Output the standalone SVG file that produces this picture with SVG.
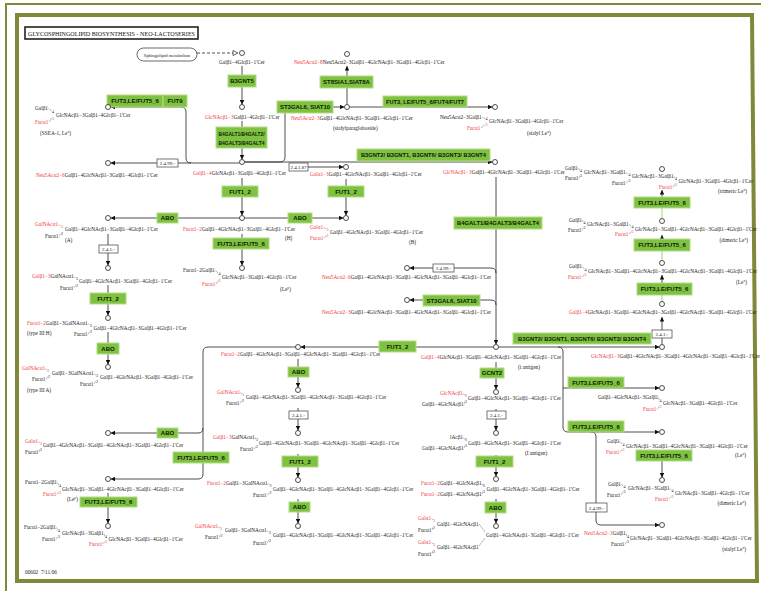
<svg xmlns="http://www.w3.org/2000/svg" width="761" height="591" viewBox="0 0 761 591">
<defs>
<style>
.t{font-family:"Liberation Serif",serif;font-size:5.3px;fill:#222}
.r{fill:#f03c3c}
.s{font-size:4px}
.e{fill:#7fc241;stroke:#b3dc88;stroke-width:1}
.et{font-family:"Liberation Sans",Arial,sans-serif;font-weight:bold;font-size:6px;fill:#0d1a05;text-anchor:middle}
.k{fill:#fff;stroke:#555;stroke-width:.8}
.kt{font-family:"Liberation Serif",serif;font-size:5px;fill:#222;text-anchor:middle}
.c{fill:#fff;stroke:#222;stroke-width:.8}
.l{fill:none;stroke:#3a3a3a;stroke-width:.9}
.g{fill:none;stroke:#8fd05a;stroke-width:.9}
.b{fill:none;stroke:#666;stroke-width:.45}
.en{text-anchor:end}
</style>
<marker id="a" viewBox="0 0 10 10" refX="10" refY="5" markerWidth="4.5" markerHeight="4.5" markerUnits="userSpaceOnUse" orient="auto"><path d="M0,0 L10,5 L0,10 z" fill="#111"/></marker>
</defs>
<rect width="761" height="591" fill="#fff"/>
<path d="M6,591 V4 H761" fill="none" stroke="#81883a" stroke-width="2"/>
<path d="M17,15 H752 L757,581 H17 Z" fill="none" stroke="#81883a" stroke-width="4"/>

<g id="title">
<rect x="25" y="27" width="173" height="12" fill="#fff" stroke="#222" stroke-width="1.6"/>
<text x="28" y="35.5" font-family="Liberation Serif,serif" font-size="6.2" fill="#111" textLength="167" lengthAdjust="spacingAndGlyphs">GLYCOSPHINGOLIPID BIOSYNTHESIS - NEO-LACTOSERIES</text>
</g>
<text class="t" x="25" y="574">00602</text><text class="t" x="41" y="574">7/11/06</text>

<g id="connectors">
<path class="l" d="M197,53 H233" stroke-dasharray="3,2"/>
<polygon points="233,50.5 238,53 233,55.5" fill="#fff" stroke="#222" stroke-width=".7"/>
<path class="l" d="M242,66 V104.5" marker-end="url(#a)"/>
<path class="l" d="M242,121 V159.5" marker-end="url(#a)"/>
<path class="l" d="M239.5,163 H110.5" marker-end="url(#a)"/>
<path class="l" d="M191,163 Q186,163 186,158 V112 Q186,107 181,107 H110.5" marker-end="url(#a)"/>
<path class="l" d="M244.5,162 H280 Q285,162 285,157 V107 H344.5" marker-end="url(#a)"/>
<path class="l" d="M244.5,162 H492.5" marker-end="url(#a)"/>
<path class="l" d="M307,167 H343.5" marker-end="url(#a)"/>
<path class="l" d="M349.5,107 H492.5" marker-end="url(#a)"/>
<path class="l" d="M347,104.5 V66" marker-end="url(#a)"/>
<path class="l" d="M242,178 V215.5" marker-end="url(#a)"/>
<path class="l" d="M346,179 V215.5" marker-end="url(#a)"/>
<path class="l" d="M239.5,218 H110.5" marker-end="url(#a)"/>
<path class="l" d="M244.5,218 H343.5" marker-end="url(#a)"/>
<path class="l" d="M242,234 V265.5" marker-end="url(#a)"/>
<path class="l" d="M108,234 V265.5" marker-end="url(#a)"/>
<path class="l" d="M108,285 V315.5" marker-end="url(#a)"/>
<path class="l" d="M108,332 V364.5" marker-end="url(#a)"/>
<path class="l" d="M496,177 V344.5" marker-end="url(#a)"/>
<path class="l" d="M496,273 Q496,268 491,268 H409.5" marker-end="url(#a)"/>
<path class="l" d="M496,305 Q496,300 491,300 H409.5" marker-end="url(#a)"/>
<path class="l" d="M493.5,347 H300.5" marker-end="url(#a)"/>
<path class="l" d="M295.5,347 H208 Q203,347 203,352 V428 Q203,433 198,433 H110.5" marker-end="url(#a)"/>
<path class="l" d="M203,428 V474 Q203,479 198,479 H110.5" marker-end="url(#a)"/>
<path class="l" d="M108,493 V523.5" marker-end="url(#a)"/>
<path class="l" d="M298,359 V387.5" marker-end="url(#a)"/>
<path class="l" d="M298,408 V430.5" marker-end="url(#a)"/>
<path class="l" d="M298,454 V477.5" marker-end="url(#a)"/>
<path class="l" d="M298,499 V523.5" marker-end="url(#a)"/>
<path class="l" d="M496,362 V389.5" marker-end="url(#a)"/>
<path class="l" d="M496,409 V430.5" marker-end="url(#a)"/>
<path class="l" d="M496,455 V476.5" marker-end="url(#a)"/>
<path class="l" d="M496,499 V523.5" marker-end="url(#a)"/>
<path class="l" d="M498.5,347 H659.5" marker-end="url(#a)"/>
<path class="l" d="M558,347 Q563,347 563,352 V427 Q563,432 568,432 H659.5" marker-end="url(#a)"/>
<path class="l" d="M563,388 H659.5" marker-end="url(#a)"/>
<path class="l" d="M591,432 Q596,432 596,437 V520 Q596,525 601,525 H659.5" marker-end="url(#a)"/>
<path class="l" d="M662,461 V477.5" marker-end="url(#a)"/>
<path class="l" d="M662,344.5 V338"/>
<path class="l" d="M662,330 V317" marker-end="url(#a)"/>
<path class="l" d="M662,283 V275" marker-end="url(#a)"/>
<path class="l" d="M662,239 V235" marker-end="url(#a)"/>
<path class="l" d="M662,197 V190" marker-end="url(#a)"/>
<path class="g" d="M662,301.5 V295 M662,260.5 V251 M662,218.5 V208"/>
<path class="b" d="M479,524 L485,532 M479,546 L485,538"/>
</g>

<g id="kboxes">
<rect class="k" x="157" y="159" width="21" height="8"/><text class="kt" x="167.5" y="165">2.4.99.-</text>
<rect class="k" x="289" y="163" width="19" height="8"/><text class="kt" x="298.5" y="169">2.4.1.87</text>
<rect class="k" x="99" y="245" width="19" height="8"/><text class="kt" x="108.5" y="251">2.4.1.-</text>
<rect class="k" x="433" y="264" width="21" height="8"/><text class="kt" x="443.5" y="270">2.4.99.-</text>
<rect class="k" x="289" y="411" width="19" height="8"/><text class="kt" x="298.5" y="417">2.4.1.-</text>
<rect class="k" x="487" y="411" width="19" height="8"/><text class="kt" x="496.5" y="417">2.4.1.-</text>
<rect class="k" x="652" y="330" width="20" height="8"/><text class="kt" x="662" y="336">2.4.1.-</text>
<rect class="k" x="586" y="503" width="21" height="9"/><text class="kt" x="596.5" y="509.5">2.4.99.-</text>
</g>

<g id="sph"><rect x="137" y="48" width="60" height="13" rx="6.5" fill="#fff" stroke="#444" stroke-width=".8"/><text x="167" y="56.5" font-family="Liberation Serif,serif" font-size="4.6" fill="#222" text-anchor="middle">Sphingolipid metabolism</text></g>

<g id="enzymes">
<g id="e1"><rect class="e" x="228" y="75" width="28" height="12"/><text class="et" x="242" y="83">B3GNT5</text></g>
<g id="e2"><rect class="e" x="216" y="127" width="51" height="21"/><text class="et" x="241.5" y="136" font-size="5.5" textLength="46" lengthAdjust="spacingAndGlyphs">B4GALT1/B4GALT2/</text><text class="et" x="241.5" y="144.5" font-size="5.5" textLength="46" lengthAdjust="spacingAndGlyphs">B4GALT3/B4GALT4</text></g>
<g id="e3"><rect class="e" x="277" y="101" width="56" height="12"/><text class="et" x="305" y="109">ST3GAL6, SIAT10</text></g>
<g id="e4"><rect class="e" x="320" y="76" width="53" height="12"/><text class="et" x="346.5" y="84">ST8SIA1,SIAT8A</text></g>
<g id="e5"><rect class="e" x="383" y="96" width="84" height="11"/><text class="et" x="425" y="103.5" textLength="78" lengthAdjust="spacingAndGlyphs">FUT3, LE/FUT5_6/FUT4/FUT7</text></g>
<g id="e6"><rect class="e" x="107" y="95" width="56" height="12"/><text class="et" x="135" y="103">FUT3,LE/FUT5_6</text></g>
<g id="e7"><rect class="e" x="163" y="95" width="24" height="12"/><text class="et" x="175" y="103">FUT9</text></g>
<g id="e8"><rect class="e" x="357" y="149" width="133" height="12"/><text class="et" x="423.5" y="157" textLength="125" lengthAdjust="spacingAndGlyphs">B3GNT2/ B3GNT1, B3GNT6/ B3GNT3/ B3GNT4</text></g>
<g id="e9"><rect class="e" x="222" y="186" width="36" height="11"/><text class="et" x="240" y="193.5">FUT1_2</text></g>
<g id="e10"><rect class="e" x="328" y="186" width="36" height="11"/><text class="et" x="346" y="193.5">FUT1_2</text></g>
<g id="e11"><rect class="e" x="157" y="213" width="21" height="10"/><text class="et" x="167.5" y="220">ABO</text></g>
<g id="e12"><rect class="e" x="288" y="213" width="24" height="10"/><text class="et" x="300" y="220">ABO</text></g>
<g id="e13"><rect class="e" x="213" y="238" width="56" height="11"/><text class="et" x="241" y="245.5">FUT3,LE/FUT5_6</text></g>
<g id="e14"><rect class="e" x="454" y="217" width="88" height="12"/><text class="et" x="498" y="225" textLength="82" lengthAdjust="spacingAndGlyphs">B4GALT1/B4GALT3/B4GALT4</text></g>
<g id="e15"><rect class="e" x="90" y="293" width="36" height="11"/><text class="et" x="108" y="300.5">FUT1_2</text></g>
<g id="e16"><rect class="e" x="97" y="343" width="22" height="11"/><text class="et" x="108" y="350.5">ABO</text></g>
<g id="e17"><rect class="e" x="423" y="295" width="57" height="11"/><text class="et" x="451.5" y="302.5">ST3GAL6, SIAT10</text></g>
<g id="e18"><rect class="e" x="379" y="341" width="37" height="11"/><text class="et" x="397.5" y="348.5">FUT1_2</text></g>
<g id="e19"><rect class="e" x="513" y="333" width="138" height="11"/><text class="et" x="582" y="340.5" textLength="128" lengthAdjust="spacingAndGlyphs">B3GNT2/ B3GNT1, B3GNT6/ B3GNT3/ B3GNT4</text></g>
<g id="e20"><rect class="e" x="288" y="367" width="21" height="10"/><text class="et" x="298.5" y="374">ABO</text></g>
<g id="e21"><rect class="e" x="480" y="368" width="24" height="10"/><text class="et" x="492" y="375">GCNT2</text></g>
<g id="e22"><rect class="e" x="568" y="377" width="56" height="11"/><text class="et" x="596" y="384.5">FUT3,LE/FUT5_6</text></g>
<g id="e23"><rect class="e" x="568" y="421" width="56" height="11"/><text class="et" x="596" y="428.5">FUT3,LE/FUT5_6</text></g>
<g id="e24"><rect class="e" x="157" y="428" width="21" height="10"/><text class="et" x="167.5" y="435">ABO</text></g>
<g id="e25"><rect class="e" x="173" y="452" width="56" height="11"/><text class="et" x="201" y="459.5">FUT3,LE/FUT5_6</text></g>
<g id="e26"><rect class="e" x="636" y="450" width="56" height="11"/><text class="et" x="664" y="457.5">FUT3,LE/FUT5_6</text></g>
<g id="e27"><rect class="e" x="282" y="456" width="36" height="11"/><text class="et" x="300" y="463.5">FUT1_2</text></g>
<g id="e28"><rect class="e" x="476" y="456" width="37" height="11"/><text class="et" x="494.5" y="463.5">FUT1_2</text></g>
<g id="e29"><rect class="e" x="80" y="497" width="57" height="10"/><text class="et" x="108.5" y="504">FUT3,LE/FUT5_6</text></g>
<g id="e30"><rect class="e" x="289" y="502" width="21" height="10"/><text class="et" x="299.5" y="509">ABO</text></g>
<g id="e31"><rect class="e" x="485" y="502" width="21" height="11"/><text class="et" x="495.5" y="509.5">ABO</text></g>
<g id="e32"><rect class="e" x="634" y="197" width="56" height="11"/><text class="et" x="662" y="204.5">FUT3,LE/FUT5_6</text></g>
<g id="e33"><rect class="e" x="634" y="239" width="56" height="12"/><text class="et" x="662" y="247">FUT3,LE/FUT5_6</text></g>
<g id="e34"><rect class="e" x="637" y="283" width="55" height="12"/><text class="et" x="664.5" y="291">FUT3,LE/FUT5_6</text></g>
</g>

<g id="compounds">
<g id="m1"><circle class="c" cx="242" cy="53" r="2.5"/><text class="t" x="219" y="63.5">Galβ1−4Glcβ1−1'Cer</text></g>
<g id="m2"><circle class="c" cx="242" cy="107" r="2.5"/><text class="t" x="205" y="118.5"><tspan class="r">GlcNAcβ1−3</tspan>Galβ1−4Glcβ1−1'Cer</text></g>
<g id="m3"><circle class="c" cx="242" cy="162" r="2.5"/><text class="t" x="193" y="175"><tspan class="r">Galβ1−4</tspan>GlcNAcβ1−3Galβ1−4Glcβ1−1'Cer</text></g>
<g id="m4"><circle class="c" cx="347" cy="107" r="2.5"/><text class="t" x="291" y="119.5"><tspan class="r">Neu5Acα2−3</tspan>Galβ1−4GlcNAcβ1−3Galβ1−4Glcβ1−1'Cer</text><text class="t" x="333" y="129.5">(sialylparagloboside)</text></g>
<g id="m5"><circle class="c" cx="347" cy="54" r="2.5"/><text class="t" x="294" y="64"><tspan class="r">Neu5Acα2−8</tspan>Neu5Acα2−3Galβ1−4GlcNAcβ1−3Galβ1−4Glcβ1−1'Cer</text></g>
<g id="m6"><circle class="c" cx="495" cy="107" r="2.5"/><text class="t" x="440" y="119">Neu5Acα2−3Galβ1</text><text class="t s" x="485.5" y="120">4</text><text class="t" x="489" y="123">GlcNAcβ1−3Galβ1−4Glcβ1−1'Cer</text><text class="t r" x="467" y="129.5">Fucα1</text><text class="t s r" x="485.5" y="126">3</text><text class="t" x="527" y="135">(sialyl Le<tspan font-size="3.6" dy="-1.8">x</tspan><tspan dy="1.8">)</tspan></text><path class="b" d="M482.3,117.4 L485.3,118.4 M481,127.9 L485.3,124.4"/></g>
<g id="m7"><circle class="c" cx="108" cy="107" r="2.5"/><text class="t" x="35" y="110">Galβ1</text><text class="t s" x="52" y="113">4</text><text class="t" x="56" y="117">GlcNAcβ1−3Galβ1−4Glcβ1−1'Cer</text><text class="t r" x="35" y="123.5">Fucα1</text><text class="t s r" x="52" y="119.5">3</text><text class="t" x="40" y="135">(SSEA-1, Le<tspan font-size="3.6" dy="-1.8">x</tspan><tspan dy="1.8">)</tspan></text><path class="b" d="M48.4,108.4 L51.8,111.4 M49,121.9 L51.8,117.9"/></g>
<g id="m8"><circle class="c" cx="108" cy="163" r="2.5"/><text class="t" x="36" y="177"><tspan class="r">Neu5Acα2−6</tspan>Galβ1−4GlcNAcβ1−3Galβ1−4Glcβ1−1'Cer</text></g>
<g id="m9"><circle class="c" cx="346" cy="167" r="2.5"/><text class="t" x="310" y="176"><tspan class="r">Galα1−3</tspan>Galβ1−4GlcNAcβ1−3Galβ1−4Glcβ1−1'Cer</text></g>
<g id="m10"><circle class="c" cx="495" cy="162" r="2.5"/><text class="t" x="443" y="174"><tspan class="r">GlcNAcβ1−3</tspan>Galβ1−4GlcNAcβ1−3Galβ1−4Glcβ1−1'Cer</text></g>
<g id="m11"><circle class="c" cx="242" cy="218" r="2.5"/><text class="t" x="183" y="231"><tspan class="r">Fucα1−2</tspan>Galβ1−4GlcNAcβ1−3Galβ1−4Glcβ1−1'Cer</text><text class="t" x="285" y="240">(H)</text></g>
<g id="m12"><circle class="c" cx="108" cy="218" r="2.5"/><text class="t r" x="35" y="226">GalNAcα1</text><text class="t s r" x="61" y="228">3</text><text class="t" x="65" y="231">Galβ1−4GlcNAcβ1−3Galβ1−4Glcβ1−1'Cer</text><text class="t" x="45" y="238">Fucα1</text><text class="t s" x="61" y="235">2</text><text class="t" x="65" y="242">(A)</text><path class="b" d="M58.6,224.4 L60.8,226.4 M59,236.4 L60.8,233.4"/></g>
<g id="m13"><circle class="c" cx="346" cy="218" r="2.5"/><text class="t r" x="310" y="229">Galα1</text><text class="t s r" x="326.5" y="230.5">3</text><text class="t" x="330" y="234">Galβ1−4GlcNAcβ1−3Galβ1−4Glcβ1−1'Cer</text><text class="t r" x="310" y="240">Fucα1</text><text class="t s r" x="326.5" y="237">2</text><text class="t" x="409" y="244">(B)</text><path class="b" d="M323.6,227.4 L326.3,228.9 M324,238.4 L326.3,235.4"/></g>
<g id="m14"><circle class="c" cx="242" cy="268" r="2.5"/><text class="t" x="183" y="272">Fucα1−2Galβ1</text><text class="t s" x="218.5" y="275">4</text><text class="t" x="222" y="279">GlcNAcβ1−3Galβ1−4Glcβ1−1'Cer</text><text class="t r" x="202" y="286">Fucα1</text><text class="t s r" x="218.5" y="282">3</text><text class="t" x="280" y="291">(Le<tspan font-size="3.6" dy="-1.8">y</tspan><tspan dy="1.8">)</tspan></text><path class="b" d="M215.5,270.4 L218.3,273.4 M216,284.4 L218.3,280.4"/></g>
<g id="m15"><circle class="c" cx="108" cy="268" r="2.5"/><text class="t" x="32" y="278"><tspan class="r">Galβ1−3</tspan>GalNAcα1</text><text class="t s" x="76" y="280">3</text><text class="t" x="79" y="283">Galβ1−4GlcNAcβ1−3Galβ1−4Glcβ1−1'Cer</text><text class="t" x="60" y="289.5">Fucα1</text><text class="t s" x="76" y="286.5">2</text><path class="b" d="M74.2,276.4 L75.8,278.4 M74,287.9 L75.8,284.9"/></g>
<g id="m16"><circle class="c" cx="108" cy="318" r="2.5"/><text class="t" x="27" y="325"><tspan class="r">Fucα1−2</tspan>Galβ1−3GalNAcα1</text><text class="t s" x="90" y="327">3</text><text class="t" x="93.5" y="329.5">Galβ1−4GlcNAcβ1−3Galβ1−4Glcβ1−1'Cer</text><text class="t" x="74" y="336">Fucα1</text><text class="t s" x="90" y="333">2</text><text class="t" x="27" y="335">(type III H)</text><path class="b" d="M88.4,323.4 L89.8,325.4 M88,334.4 L89.8,331.4"/></g>
<g id="m17"><circle class="c" cx="108" cy="367" r="2.5"/><text class="t r" x="22" y="370">GalNAcα1</text><text class="t s r" x="47" y="372">3</text><text class="t" x="52" y="375">Galβ1−3GalNAcα1</text><text class="t s" x="96" y="377">3</text><text class="t" x="100" y="379">Galβ1−4GlcNAcβ1−3Galβ1−4Glcβ1−1'Cer</text><text class="t" x="32" y="381">Fucα1</text><text class="t s" x="48" y="378">2</text><text class="t" x="80" y="385.5">Fucα1</text><text class="t s" x="96" y="382.5">2</text><text class="t" x="27" y="392">(type III A)</text><path class="b" d="M45.6,368.4 L46.8,370.4 M94.2,373.4 L95.8,375.4 M46,379.4 L47.8,376.4 M94,383.9 L95.8,380.9"/></g>
<g id="m18"><circle class="c" cx="108" cy="433" r="2.5"/><text class="t r" x="25" y="443">Galα1</text><text class="t s r" x="40" y="444.5">3</text><text class="t" x="43" y="446.5">Galβ1−4GlcNAcβ1−3Galβ1−4GlcNAcβ1−3Galβ1−4Glcβ1−1'Cer</text><text class="t" x="25" y="454">Fucα1</text><text class="t s" x="40" y="451">2</text><path class="b" d="M38.6,441.4 L39.8,442.9 M39,452.4 L39.8,449.4"/></g>
<g id="m19"><circle class="c" cx="108" cy="479" r="2.5"/><text class="t" x="25" y="484">Fucα1−2Galβ1</text><text class="t s" x="59" y="487">4</text><text class="t" x="62" y="490.5">GlcNAcβ1−3Galβ1−4GlcNAcβ1−3Galβ1−4Glcβ1−1'Cer</text><text class="t r" x="43" y="496">Fucα1</text><text class="t s r" x="59" y="493.5">3</text><text class="t" x="67" y="500.5">(Le<tspan font-size="3.6" dy="-1.8">y</tspan><tspan dy="1.8">)</tspan></text><path class="b" d="M57.5,482.4 L58.8,485.4 M57,494.4 L58.8,491.9"/></g>
<g id="m20"><circle class="c" cx="108" cy="526" r="2.5"/><text class="t" x="24" y="529">Fucα1−2Galβ1</text><text class="t s" x="58" y="532">4</text><text class="t" x="62" y="535">GlcNAcβ1−3Galβ1</text><text class="t" x="42" y="541">Fucα1</text><text class="t s" x="58" y="538">3</text><text class="t s" x="105" y="538">4</text><text class="t" x="108.5" y="540.5">GlcNAcβ1−3Galβ1−4Glcβ1−1'Cer</text><text class="t r" x="89" y="545.5">Fucα1</text><text class="t s r" x="105" y="543">3</text><path class="b" d="M56.5,527.4 L57.8,530.4 M104,533.4 L104.8,536.4 M56,539.4 L57.8,536.4 M103,543.9 L104.8,541.4"/></g>
<g id="m21"><circle class="c" cx="298" cy="347" r="2.5"/><text class="t" x="221" y="356"><tspan class="r">Fucα1−2</tspan>Galβ1−4GlcNAcβ1−3Galβ1−4GlcNAcβ1−3Galβ1−4Glcβ1−1'Cer</text></g>
<g id="m22"><circle class="c" cx="298" cy="390" r="2.5"/><text class="t r" x="217" y="394">GalNAcα1</text><text class="t s r" x="242" y="396">3</text><text class="t" x="246" y="398.5">Galβ1−4GlcNAcβ1−3Galβ1−4GlcNAcβ1−3Galβ1−4Glcβ1−1'Cer</text><text class="t" x="226" y="405">Fucα1</text><text class="t s" x="242" y="402">2</text><path class="b" d="M240.6,392.4 L241.8,394.4 M240,403.4 L241.8,400.4"/></g>
<g id="m23"><circle class="c" cx="298" cy="433" r="2.5"/><text class="t" x="213" y="439"><tspan class="r">Galβ1−3</tspan>GalNAcα1</text><text class="t s" x="256" y="441">3</text><text class="t" x="259" y="445">Galβ1−4GlcNAcβ1−3Galβ1−4GlcNAcβ1−3Galβ1−4Glcβ1−1'Cer</text><text class="t" x="240" y="451">Fucα1</text><text class="t s" x="256" y="448">2</text><path class="b" d="M255.2,437.4 L255.8,439.4 M254,449.4 L255.8,446.4"/></g>
<g id="m24"><circle class="c" cx="298" cy="480" r="2.5"/><text class="t" x="207" y="485"><tspan class="r">Fucα1−2</tspan>Galβ1−3GalNAcα1</text><text class="t s" x="269.5" y="487">3</text><text class="t" x="273" y="490.5">Galβ1−4GlcNAcβ1−3Galβ1−4GlcNAcβ1−3Galβ1−4Glcβ1−1'Cer</text><text class="t" x="253" y="497">Fucα1</text><text class="t s" x="269.5" y="494">2</text><path class="b" d="M268.4,483.4 L269.3,485.4 M267,495.4 L269.3,492.4"/></g>
<g id="m25"><circle class="c" cx="298" cy="526" r="2.5"/><text class="t r" x="195" y="528">GalNAcα1</text><text class="t s r" x="220" y="530">3</text><text class="t" x="225" y="532">Galβ1−3GalNAcα1</text><text class="t s" x="269" y="534">3</text><text class="t" x="273" y="537">Galβ1−4GlcNAcβ1−3Galβ1−4GlcNAcβ1−3Galβ1−4Glcβ1−1'Cer</text><text class="t" x="205" y="539">Fucα1</text><text class="t s" x="220.5" y="536.5">2</text><text class="t" x="253" y="545">Fucα1</text><text class="t s" x="269" y="541.5">2</text><path class="b" d="M218.6,526.4 L219.8,528.4 M267.2,530.4 L268.8,532.4 M219,537.4 L220.3,534.9 M267,543.4 L268.8,539.9"/></g>
<g id="m26"><circle class="c" cx="407" cy="268" r="2.5"/><text class="t" x="322" y="279"><tspan class="r">Neu5Acα2−6</tspan>Galβ1−4GlcNAcβ1−3Galβ1−4GlcNAcβ1−3Galβ1−4Glcβ1−1'Cer</text></g>
<g id="m27"><circle class="c" cx="407" cy="300" r="2.5"/><text class="t" x="322" y="314"><tspan class="r">Neu5Acα2−3</tspan>Galβ1−4GlcNAcβ1−3Galβ1−4GlcNAcβ1−3Galβ1−4Glcβ1−1'Cer</text></g>
<g id="m28"><circle class="c" cx="496" cy="347" r="2.5"/><text class="t" x="421" y="359"><tspan class="r">Galβ1−4</tspan>GlcNAcβ1−3Galβ1−4GlcNAcβ1−3Galβ1−4Glcβ1−1'Cer</text><text class="t" x="518" y="369">(i antigen)</text></g>
<g id="m29"><circle class="c" cx="496" cy="392" r="2.5"/><text class="t r" x="440" y="395">GlcNAcβ1</text><text class="t s r" x="465" y="397">6</text><text class="t" x="422" y="406">Galβ1−4GlcNAcβ1</text><text class="t s" x="465" y="403">3</text><text class="t" x="468" y="400">Galβ1−4GlcNAcβ1−3Galβ1−4Glcβ1−1'Cer</text><path class="b" d="M463.4,393.4 L464.8,395.4 M464,404.4 L464.8,401.4"/></g>
<g id="m30"><circle class="c" cx="496" cy="433" r="2.5"/><text class="t" x="450" y="439">lAcβ1</text><text class="t s" x="465" y="441">6</text><text class="t" x="422" y="450">Galβ1−4GlcNAcβ1</text><text class="t s" x="465" y="447">3</text><text class="t" x="468" y="444.5">Galβ1−4GlcNAcβ1−3Galβ1−4Glcβ1−1'Cer</text><text class="t" x="525" y="455">(I antigen)</text><path class="b" d="M463.4,437.4 L464.8,439.4 M464,448.4 L464.8,445.4"/></g>
<g id="m31"><circle class="c" cx="496" cy="479" r="2.5"/><text class="t" x="421" y="485"><tspan class="r">Fucα1−2</tspan>Galβ1−4GlcNAcβ1</text><text class="t s" x="483" y="487">6</text><text class="t" x="421" y="496"><tspan class="r">Fucα1−2</tspan>Galβ1−4GlcNAcβ1</text><text class="t s" x="483" y="493">3</text><text class="t" x="486.5" y="490.5">Galβ1−4GlcNAcβ1−3Galβ1−4Glcβ1−1'Cer</text><path class="b" d="M482,483.4 L482.8,485.4 M482,494.4 L482.8,491.4"/></g>
<g id="m32"><circle class="c" cx="496" cy="526" r="2.5"/><text class="t r" x="418" y="520">Galα1</text><text class="t s r" x="433" y="521.5">3</text><text class="t" x="437" y="526">Galβ1−4GlcNAcβ1</text><text class="t" x="418" y="532">Fucα1</text><text class="t s" x="433" y="529">2</text><text class="t r" x="418" y="544">Galα1</text><text class="t s r" x="433" y="545.5">3</text><text class="t" x="437" y="548.5">Galβ1−4GlcNAcβ1</text><text class="t" x="418" y="555.5">Fucα1</text><text class="t s" x="433" y="552.5">2</text><text class="t" x="486" y="536.5">Galβ1−4GlcNAcβ1−3Galβ1−4Glcβ1−1'Cer</text><path class="b" d="M431.6,518.4 L432.8,519.9 M432,530.4 L432.8,527.4 M431.6,542.4 L432.8,543.9 M432,553.9 L432.8,550.9"/></g>
<g id="m33"><circle class="c" cx="662" cy="347" r="2.5"/><text class="t" x="591" y="358"><tspan class="r">GlcNAcβ1−3</tspan>Galβ1−4GlcNAcβ1−3Galβ1−4GlcNAcβ1−3Galβ1−4Glcβ1−1'Cer</text></g>
<g id="m34"><circle class="c" cx="662" cy="304" r="2.5"/><text class="t" x="569" y="314"><tspan class="r">Galβ1−4</tspan>GlcNAcβ1−3Galβ1−4GlcNAcβ1−3Galβ1−4GlcNAcβ1−3Galβ1−4Glcβ1−1'Cer</text></g>
<g id="m35"><circle class="c" cx="662" cy="263" r="2.5"/><text class="t" x="569" y="268">Galβ1</text><text class="t s" x="584.5" y="271">4</text><text class="t" x="588" y="272.5">GlcNAcβ1−3Galβ1−4GlcNAcβ1−3Galβ1−4GlcNAcβ1−3Galβ1−4Glcβ1−1'Cer</text><text class="t r" x="568" y="279">Fucα1</text><text class="t s r" x="584.5" y="276">3</text><text class="t en" x="747" y="284">(Le<tspan font-size="3.6" dy="-1.8">x</tspan><tspan dy="1.8">)</tspan></text><path class="b" d="M582.4,266.4 L584.3,269.4 M582,277.4 L584.3,274.4"/></g>
<g id="m36"><circle class="c" cx="662" cy="221" r="2.5"/><text class="t" x="569" y="221.5">Galβ1</text><text class="t s" x="583.5" y="224">4</text><text class="t" x="587" y="225.5">GlcNAcβ1−3Galβ1</text><text class="t" x="568" y="232">Fucα1</text><text class="t s" x="583.5" y="229">3</text><text class="t s" x="631.5" y="228">4</text><text class="t" x="635" y="230.5">GlcNAcβ1−3Galβ1−4GlcNAcβ1−3Galβ1−4Glcβ1−1'Cer</text><text class="t r" x="615" y="236">Fucα1</text><text class="t s r" x="631.5" y="233">3</text><text class="t en" x="748" y="242">(dimeric Le<tspan font-size="3.6" dy="-1.8">x</tspan><tspan dy="1.8">)</tspan></text><path class="b" d="M582.4,219.9 L583.3,222.4 M629,223.9 L631.3,226.4 M582,230.4 L583.3,227.4 M629,234.4 L631.3,231.4"/></g>
<g id="m37"><circle class="c" cx="662" cy="169" r="2.5"/><text class="t" x="565" y="169.5">Galβ1</text><text class="t s" x="580" y="172">4</text><text class="t" x="584" y="174">GlcNAcβ1−3Galβ1</text><text class="t" x="565" y="180">Fucα1</text><text class="t s" x="580" y="177">3</text><text class="t s" x="628.5" y="176">4</text><text class="t" x="632" y="178">GlcNAcβ1−3Galβ1</text><text class="t" x="612" y="185">Fucα1</text><text class="t s" x="628.5" y="182">3</text><text class="t s" x="675" y="180">4</text><text class="t" x="678.5" y="183">GlcNAcβ1−3Galβ1−4Glcβ1−1'Cer</text><text class="t r" x="659" y="189">Fucα1</text><text class="t s r" x="675" y="186">3</text><text class="t en" x="747" y="193">(trimeric Le<tspan font-size="3.6" dy="-1.8">x</tspan><tspan dy="1.8">)</tspan></text><path class="b" d="M578.4,167.9 L579.8,170.4 M626,172.4 L628.3,174.4 M579,178.4 L579.8,175.4 M674,176.4 L674.8,178.4 M626,183.4 L628.3,180.4 M673,187.4 L674.8,184.4"/></g>
<g id="m38"><circle class="c" cx="662" cy="388" r="2.5"/><text class="t" x="598" y="399">Galβ1−4GlcNAcβ1−3Galβ1</text><text class="t s" x="659.5" y="402">4</text><text class="t" x="663" y="405">GlcNAcβ1−3Galβ1−4Glcβ1−1'Cer</text><text class="t r" x="643" y="411">Fucα1</text><text class="t s r" x="659.5" y="408">3</text><path class="b" d="M658.5,397.4 L659.3,400.4 M657,409.4 L659.3,406.4"/></g>
<g id="m39"><circle class="c" cx="662" cy="432" r="2.5"/><text class="t" x="607" y="443">Galβ1</text><text class="t s" x="622.5" y="446">4</text><text class="t" x="626" y="447.5">GlcNAcβ1−3Galβ1−4GlcNAcβ1−3Galβ1−4Glcβ1−1'Cer</text><text class="t r" x="606" y="454">Fucα1</text><text class="t s r" x="622.5" y="451">3</text><text class="t en" x="746" y="457">(Le<tspan font-size="3.6" dy="-1.8">x</tspan><tspan dy="1.8">)</tspan></text><path class="b" d="M620.4,441.4 L622.3,444.4 M620,452.4 L622.3,449.4"/></g>
<g id="m40"><circle class="c" cx="662" cy="480" r="2.5"/><text class="t" x="608" y="485.5">Galβ1</text><text class="t s" x="623.5" y="488">4</text><text class="t" x="628" y="490">GlcNAcβ1−3Galβ1</text><text class="t" x="607" y="496.5">Fucα1</text><text class="t s" x="623.5" y="493">3</text><text class="t s" x="671.5" y="492">4</text><text class="t" x="675" y="494.5">GlcNAcβ1−3Galβ1−4Glcβ1−1'Cer</text><text class="t r" x="655" y="500.5">Fucα1</text><text class="t s r" x="671.5" y="498">3</text><text class="t en" x="746" y="505">(dimeric Le<tspan font-size="3.6" dy="-1.8">x</tspan><tspan dy="1.8">)</tspan></text><path class="b" d="M621.4,483.9 L623.3,486.4 M670,488.4 L671.3,490.4 M621,494.9 L623.3,491.4 M669,498.9 L671.3,496.4"/></g>
<g id="m41"><circle class="c" cx="662" cy="525" r="2.5"/><text class="t" x="584" y="535"><tspan class="r">Neu5Acα2−3</tspan>Galβ1</text><text class="t s" x="627" y="538">4</text><text class="t" x="630" y="539.5">GlcNAcβ1−3Galβ1−4GlcNAcβ1−3Galβ1−4Glcβ1−1'Cer</text><text class="t" x="611" y="546">Fucα1</text><text class="t s" x="627" y="543">3</text><text class="t en" x="746" y="551">(sialyl Le<tspan font-size="3.6" dy="-1.8">x</tspan><tspan dy="1.8">)</tspan></text><path class="b" d="M626.2,533.4 L626.8,536.4 M625,544.4 L626.8,541.4"/></g>
</g>
</svg>
